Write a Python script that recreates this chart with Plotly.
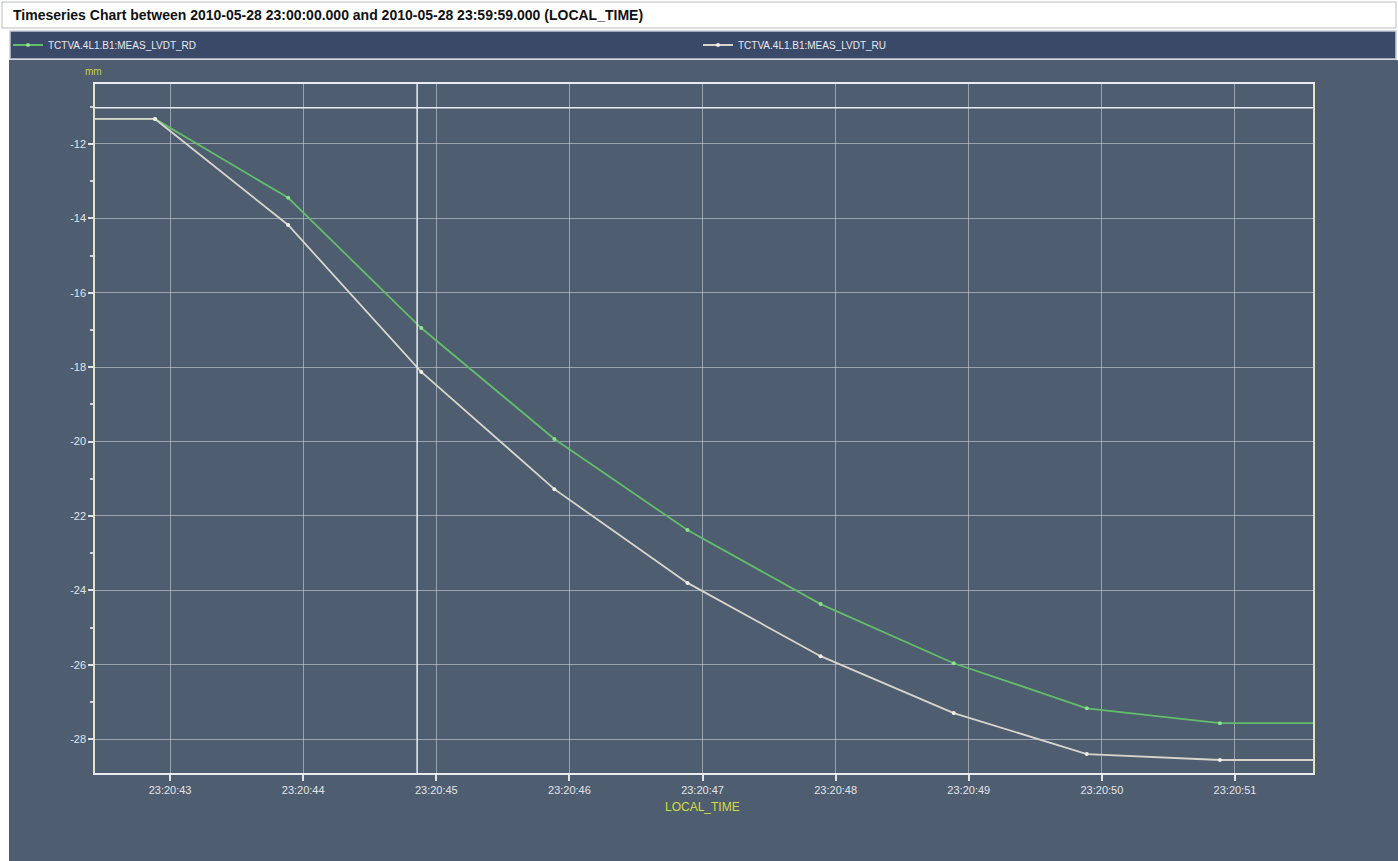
import plotly.graph_objects as go

# ---- data ----
times = ["2010-05-28 23:20:41.887", "2010-05-28 23:20:42.887", "2010-05-28 23:20:43.887",
         "2010-05-28 23:20:44.887", "2010-05-28 23:20:45.887", "2010-05-28 23:20:46.887",
         "2010-05-28 23:20:47.887", "2010-05-28 23:20:48.887", "2010-05-28 23:20:49.887",
         "2010-05-28 23:20:50.887", "2010-05-28 23:20:51.887"]
rd_values = [-11.33, -11.33, -13.45, -16.95, -19.93, -22.38, -24.37, -25.96, -27.17, -27.57, -27.57]
ru_values = [-11.33, -11.33, -14.18, -18.13, -21.28, -23.80, -25.77, -27.30, -28.40, -28.56, -28.56]
series_names = ["TCTVA.4L1.B1:MEAS_LVDT_RD", "TCTVA.4L1.B1:MEAS_LVDT_RU"]
x_tick_vals = ["2010-05-28 23:20:43", "2010-05-28 23:20:44", "2010-05-28 23:20:45",
               "2010-05-28 23:20:46", "2010-05-28 23:20:47", "2010-05-28 23:20:48",
               "2010-05-28 23:20:49", "2010-05-28 23:20:50", "2010-05-28 23:20:51"]
x_tick_text = ["23:20:43", "23:20:44", "23:20:45", "23:20:46", "23:20:47",
               "23:20:48", "23:20:49", "23:20:50", "23:20:51"]
y_tick_vals = [-12, -14, -16, -18, -20, -22, -24, -26, -28]
y_tick_text = ["-12", "-14", "-16", "-18", "-20", "-22", "-24", "-26", "-28"]
x_range = ["2010-05-28 23:20:42.436", "2010-05-28 23:20:51.586"]
y_range = [-28.91, -10.39]
cursor_time = "2010-05-28 23:20:44.856"
cursor_value = -11.03
title_text = "Timeseries Chart between 2010-05-28 23:00:00.000 and 2010-05-28 23:59:59.000 (LOCAL_TIME)"

W, H = 1398, 861
ML, MR, MT, MB = 95, 85, 84, 88
PW, PH = W - ML - MR, H - MT - MB

def px(x):
    return (x - ML) / PW

def py(y):
    return (H - MB - y) / PH

BG = "#4f5d70"
NAVY = "#3b4968"
TICK = "#e2e4e8"

fig = go.Figure()
fig.add_trace(go.Scatter(x=times, y=rd_values, mode="lines+markers", name=series_names[0],
                         line=dict(color="#62bd6a", width=1.8),
                         marker=dict(size=4, color="#8ee08e"), legend="legend"))
fig.add_trace(go.Scatter(x=times, y=ru_values, mode="lines+markers", name=series_names[1],
                         line=dict(color="#d9d5cc", width=1.8),
                         marker=dict(size=4, color="#f2efe6"), legend="legend2"))

shapes = [
    dict(type="rect", xref="paper", yref="paper", x0=px(0), x1=px(W), y0=py(H), y1=py(0),
         fillcolor="white", line_width=0, layer="below"),
    dict(type="rect", xref="paper", yref="paper", x0=px(9), x1=px(W + 5), y0=py(H + 5), y1=py(60),
         fillcolor=BG, line_width=0, layer="below"),
    dict(type="rect", xref="paper", yref="paper", x0=px(2), x1=px(1396), y0=py(28), y1=py(2),
         fillcolor="white", line=dict(color="#b8bcc4", width=1), layer="below"),
    dict(type="rect", xref="paper", yref="paper", x0=px(10), x1=px(1396), y0=py(59), y1=py(31),
         fillcolor=NAVY, line=dict(color="#c8ccd6", width=1.5), layer="below"),
    dict(type="line", xref="x", yref="paper", x0=cursor_time, x1=cursor_time, y0=0, y1=1,
         line=dict(color="#e6ecf4", width=1.5)),
    dict(type="line", xref="paper", yref="y", x0=0, x1=1, y0=cursor_value, y1=cursor_value,
         line=dict(color="#e6ecf4", width=1.5)),
]

annotations = [
    dict(text="<b>" + title_text + "</b>", xref="paper", yref="paper", x=px(11), y=py(15),
         xanchor="left", yanchor="middle", showarrow=False,
         font=dict(family="Liberation Sans Narrow, Liberation Sans, Arial", size=14, color="#111111")),
    dict(text="mm", xref="paper", yref="paper", x=px(93), y=py(72), xanchor="center",
         yanchor="middle", showarrow=False,
         font=dict(family="Liberation Sans, Arial", size=10, color="#c9d23e")),
    dict(text="LOCAL_TIME", xref="paper", yref="paper", x=px(702), y=py(807), xanchor="center",
         yanchor="middle", showarrow=False,
         font=dict(family="Liberation Sans, Arial", size=12, color="#d4dc3c")),
]

legend_font = dict(family="Liberation Sans, Arial", size=10, color="#e8eaf0")

fig.update_layout(
    width=W, height=H,
    margin=dict(l=ML, r=MR, t=MT, b=MB, autoexpand=False),
    paper_bgcolor=BG, plot_bgcolor=BG,
    shapes=shapes, annotations=annotations,
    showlegend=True,
    legend=dict(x=px(8), y=py(45), xanchor="left", yanchor="middle",
                bgcolor="rgba(0,0,0,0)", font=legend_font, itemwidth=30),
    legend2=dict(x=px(698), y=py(45), xanchor="left", yanchor="middle",
                 bgcolor="rgba(0,0,0,0)", font=legend_font, itemwidth=30),
    font=dict(family="Liberation Sans, Arial", color=TICK),
)

fig.update_xaxes(type="date", range=x_range, tickvals=x_tick_vals, ticktext=x_tick_text,
                 showgrid=True, gridcolor="rgba(215,220,228,0.55)", gridwidth=1,
                 ticks="outside", ticklen=6, tickcolor="#dfe3ea", tickwidth=1.5,
                 tickfont=dict(size=11, color=TICK),
                 showline=True, linecolor="#e8ecf2", linewidth=1.5, mirror=True, zeroline=False)
fig.update_yaxes(range=y_range, tickvals=y_tick_vals, ticktext=y_tick_text,
                 showgrid=True, gridcolor="rgba(215,220,228,0.55)", gridwidth=1,
                 ticks="outside", ticklen=5, tickcolor="#dfe3ea", tickwidth=1.5,
                 tickfont=dict(size=11, color=TICK),
                 minor=dict(dtick=1, tick0=-29, ticks="outside", ticklen=3, tickcolor="#cfd4dc", showgrid=False),
                 showline=True, linecolor="#e6e2bc", linewidth=1.5, mirror=True, zeroline=False)

fig.write_html("out.html", config={"displayModeBar": False},
               post_script="document.body.style.margin='0px';document.body.style.overflow='hidden';")
